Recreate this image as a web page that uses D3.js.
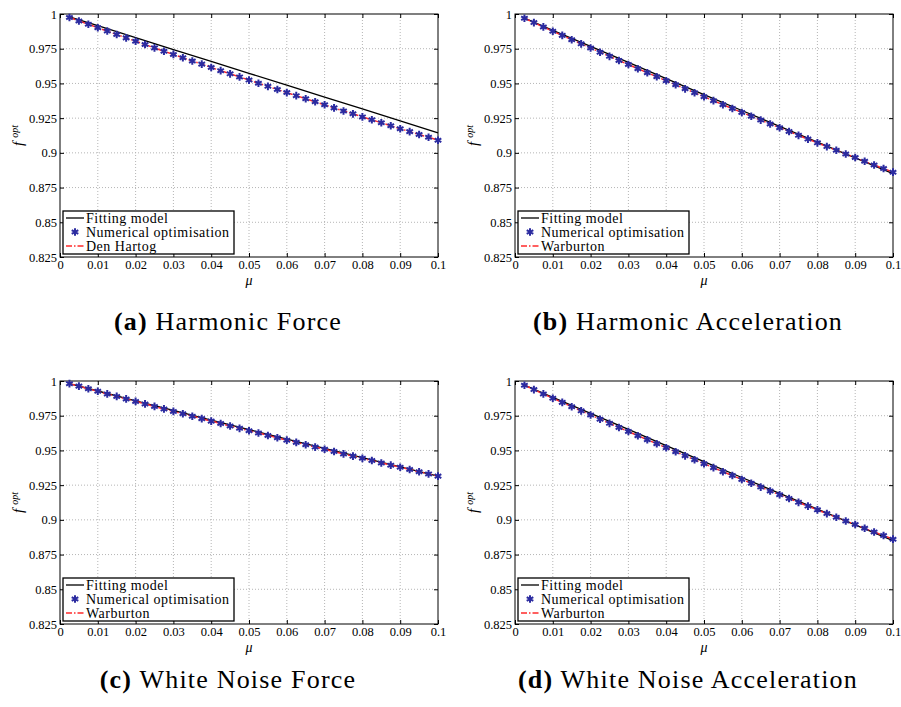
<!DOCTYPE html>
<html>
<head>
<meta charset="utf-8">
<script src="https://cdn.jsdelivr.net/npm/d3@7"></script>
<style>
body { margin: 0; background: #fff; }
</style>
</head>
<body>
<div id="fig"></div>
<script>
// mass ratio values of the numerical optimisation
const mu = [0.0025, 0.005, 0.0075, 0.01, 0.0125, 0.015, 0.0175, 0.02, 0.0225, 0.025,
    0.0275, 0.03, 0.0325, 0.035, 0.0375, 0.04, 0.0425, 0.045, 0.0475, 0.05,
    0.0525, 0.055, 0.0575, 0.06, 0.0625, 0.065, 0.0675, 0.07, 0.0725, 0.075,
    0.0775, 0.08, 0.0825, 0.085, 0.0875, 0.09, 0.0925, 0.095, 0.0975, 0.1];
// mass ratio values where the fitting model is read
const muFit = [0.0025, 0.01, 0.02, 0.03, 0.04, 0.05, 0.06, 0.07, 0.08, 0.09, 0.1];

const xTicks = [0, 0.01, 0.02, 0.03, 0.04, 0.05, 0.06, 0.07, 0.08, 0.09, 0.1];
const xTickLabels = ['0', '0.01', '0.02', '0.03', '0.04', '0.05', '0.06', '0.07', '0.08', '0.09', '0.1'];
const yTicks = [0.825, 0.85, 0.875, 0.9, 0.925, 0.95, 0.975, 1];
const yTickLabels = ['0.825', '0.85', '0.875', '0.9', '0.925', '0.95', '0.975', '1'];

// (a) harmonic force: optimisation points, they sit on the Den Hartog curve
const numHarmForce = [0.9975, 0.9950, 0.9926, 0.9901, 0.9877, 0.9852, 0.9828, 0.9804, 0.9780, 0.9756,
    0.9732, 0.9709, 0.9685, 0.9662, 0.9639, 0.9615, 0.9592, 0.9569, 0.9547, 0.9524,
    0.9501, 0.9479, 0.9456, 0.9434, 0.9412, 0.9390, 0.9368, 0.9346, 0.9324, 0.9302,
    0.9281, 0.9259, 0.9238, 0.9217, 0.9195, 0.9174, 0.9153, 0.9132, 0.9112, 0.9091];
const fitHarmForce = [0.9980, 0.9916, 0.9830, 0.9744, 0.9659, 0.9573, 0.9487, 0.9402, 0.9316, 0.9230, 0.9144];

// (b) and (d) acceleration: optimisation points, on the Warburton curve
const numAccel = [0.9969, 0.9938, 0.9907, 0.9876, 0.9846, 0.9815, 0.9785, 0.9755, 0.9725, 0.9695,
    0.9665, 0.9636, 0.9606, 0.9577, 0.9548, 0.9519, 0.9490, 0.9461, 0.9433, 0.9404,
    0.9376, 0.9347, 0.9319, 0.9291, 0.9264, 0.9236, 0.9208, 0.9181, 0.9154, 0.9126,
    0.9099, 0.9072, 0.9045, 0.9019, 0.8992, 0.8966, 0.8939, 0.8913, 0.8887, 0.8861];
const fitAccel = [0.9970, 0.9882, 0.9767, 0.9651, 0.9534, 0.9419, 0.9305, 0.9191, 0.9078, 0.8964, 0.8850];

// (c) white noise force: optimisation points, on the Warburton curve
const numNoiseForce = [0.9981, 0.9963, 0.9944, 0.9926, 0.9907, 0.9889, 0.9871, 0.9853, 0.9835, 0.9817,
    0.9799, 0.9781, 0.9764, 0.9746, 0.9729, 0.9711, 0.9694, 0.9676, 0.9659, 0.9642,
    0.9625, 0.9608, 0.9591, 0.9574, 0.9558, 0.9541, 0.9524, 0.9508, 0.9492, 0.9475,
    0.9459, 0.9443, 0.9427, 0.9410, 0.9394, 0.9379, 0.9363, 0.9347, 0.9331, 0.9315];
const fitNoiseForce = [0.9981, 0.9928, 0.9857, 0.9788, 0.9719, 0.9650, 0.9582, 0.9515, 0.9449, 0.9382, 0.9315];

const panels = [
    { tag: '(a)', title: 'Harmonic Force', ref: 'Den Hartog', num: numHarmForce, fit: fitHarmForce, left: 60, top: 14, capX: 228, capY: 330 },
    { tag: '(b)', title: 'Harmonic Acceleration', ref: 'Warburton', num: numAccel, fit: fitAccel, left: 515, top: 14, capX: 688, capY: 330 },
    { tag: '(c)', title: 'White Noise Force', ref: 'Warburton', num: numNoiseForce, fit: fitNoiseForce, left: 60, top: 381, capX: 228, capY: 688 },
    { tag: '(d)', title: 'White Noise Acceleration', ref: 'Warburton', num: numAccel, fit: fitAccel, left: 515, top: 381, capX: 688, capY: 688 }
];

var width = 378;
var height = 243;
var blue = '#2b2ba0';
var red = '#ff2b2b';
var dashDot = '6,2,1.5,2';
var serif = '"Liberation Serif", "DejaVu Serif", "Times New Roman", Times, serif';

var svg = d3.select('#fig').append('svg')
    .attr('width', 901)
    .attr('height', 707)
    .style('font-family', serif);

function drawPanel (p) {
    var x = d3.scaleLinear().domain([0, 0.1]).range([0, width]);
    var y = d3.scaleLinear().domain([0.825, 1]).range([height, 0]);

    var g = svg.append('g')
        .attr('transform', 'translate(' + p.left + ',' + p.top + ')');

    // dotted grid
    g.append('g')
        .selectAll('line')
        .data(xTicks.slice(1, -1))
        .join('line')
        .attr('x1', d => x(d)).attr('x2', d => x(d))
        .attr('y1', 0).attr('y2', height)
        .attr('stroke', '#b5b5b5')
        .attr('stroke-dasharray', '1,2');
    g.append('g')
        .selectAll('line')
        .data(yTicks.slice(1, -1))
        .join('line')
        .attr('x1', 0).attr('x2', width)
        .attr('y1', d => y(d)).attr('y2', d => y(d))
        .attr('stroke', '#b5b5b5')
        .attr('stroke-dasharray', '1,2');

    // axes, ticks pointing inward on all four sides
    var bottom = g.append('g')
        .attr('transform', 'translate(0,' + height + ')')
        .call(d3.axisBottom(x).tickValues(xTicks).tickFormat((d, i) => xTickLabels[i])
            .tickSizeInner(-4).tickSizeOuter(0).tickPadding(3));
    var leftAx = g.append('g')
        .call(d3.axisLeft(y).tickValues(yTicks).tickFormat((d, i) => yTickLabels[i])
            .tickSizeInner(-4).tickSizeOuter(0).tickPadding(3));
    var topAx = g.append('g')
        .call(d3.axisTop(x).tickValues(xTicks).tickFormat('')
            .tickSizeInner(-4).tickSizeOuter(0));
    var rightAx = g.append('g')
        .attr('transform', 'translate(' + width + ',0)')
        .call(d3.axisRight(y).tickValues(yTicks).tickFormat('')
            .tickSizeInner(-4).tickSizeOuter(0));
    [bottom, leftAx, topAx, rightAx].forEach(a => {
        a.attr('font-family', null).attr('font-size', null);
        a.select('.domain').remove();
        a.selectAll('text')
            .style('font-family', serif)
            .style('font-size', '12.5px');
        a.selectAll('line').attr('stroke', '#000');
    });

    g.append('rect')
        .attr('width', width)
        .attr('height', height)
        .attr('fill', 'none')
        .attr('stroke', '#000')
        .attr('stroke-width', 1);

    // fitting model
    var fitLine = d3.line()
        .x((d, i) => x(muFit[i]))
        .y(d => y(d));
    g.append('path')
        .datum(p.fit)
        .attr('d', fitLine)
        .attr('fill', 'none')
        .attr('stroke', '#000')
        .attr('stroke-width', 1.3);

    // reference theory curve (Den Hartog / Warburton)
    var refLine = d3.line()
        .x((d, i) => x(mu[i]))
        .y(d => y(d));
    g.append('path')
        .datum(p.num)
        .attr('d', refLine)
        .attr('fill', 'none')
        .attr('stroke', red)
        .attr('stroke-width', 1.5)
        .attr('stroke-dasharray', dashDot);

    // numerical optimisation markers
    var star = d3.symbol().type(d3.symbolAsterisk).size(40);
    g.append('g')
        .selectAll('path')
        .data(p.num)
        .join('path')
        .attr('transform', (d, i) => 'translate(' + x(mu[i]) + ',' + y(d) + ')')
        .attr('d', star)
        .attr('fill', 'none')
        .attr('stroke', blue)
        .attr('stroke-width', 2);

    // axis titles
    g.append('text')
        .attr('x', width / 2)
        .attr('y', height + 27.5)
        .attr('text-anchor', 'middle')
        .style('font-family', serif)
        .style('font-size', '14px')
        .style('font-style', 'italic')
        .text('\u03bc');

    var yl = g.append('text')
        .attr('transform', 'translate(-37,' + (height / 2) + ') rotate(-90)')
        .attr('text-anchor', 'middle')
        .style('font-family', serif)
        .style('font-style', 'italic');
    yl.append('tspan').style('font-size', '15px').text('f');
    yl.append('tspan').attr('dx', 4).attr('dy', -5).style('font-size', '10px').text('opt');

    // legend
    var lg = g.append('g').attr('transform', 'translate(3,197)');
    lg.append('rect')
        .attr('width', 171)
        .attr('height', 43)
        .attr('fill', '#fff')
        .attr('stroke', '#000')
        .attr('stroke-width', 1.3);
    var rows = [7, 21, 35];
    lg.append('line')
        .attr('x1', 3).attr('x2', 21)
        .attr('y1', rows[0]).attr('y2', rows[0])
        .attr('stroke', '#000').attr('stroke-width', 1.3);
    lg.append('path')
        .attr('transform', 'translate(12,' + rows[1] + ')')
        .attr('d', star)
        .attr('fill', 'none')
        .attr('stroke', blue)
        .attr('stroke-width', 2);
    lg.append('line')
        .attr('x1', 3).attr('x2', 21)
        .attr('y1', rows[2]).attr('y2', rows[2])
        .attr('stroke', red).attr('stroke-width', 1.5)
        .attr('stroke-dasharray', dashDot);
    lg.selectAll('text.lbl')
        .data(['Fitting model', 'Numerical optimisation', p.ref])
        .join('text')
        .attr('class', 'lbl')
        .attr('x', 23)
        .attr('y', (d, i) => rows[i] + 5)
        .style('font-family', serif)
        .style('font-size', '14px')
        .style('letter-spacing', '0.5px')
        .text(d => d);

    // caption
    var cap = svg.append('text')
        .attr('x', p.capX)
        .attr('y', p.capY)
        .attr('text-anchor', 'middle')
        .style('font-family', serif)
        .style('font-size', '26px')
        .style('letter-spacing', '1.2px');
    cap.append('tspan').style('font-weight', 'bold').text(p.tag);
    cap.append('tspan').text(' ' + p.title);
}

panels.forEach(drawPanel);
</script>
</body>
</html>
